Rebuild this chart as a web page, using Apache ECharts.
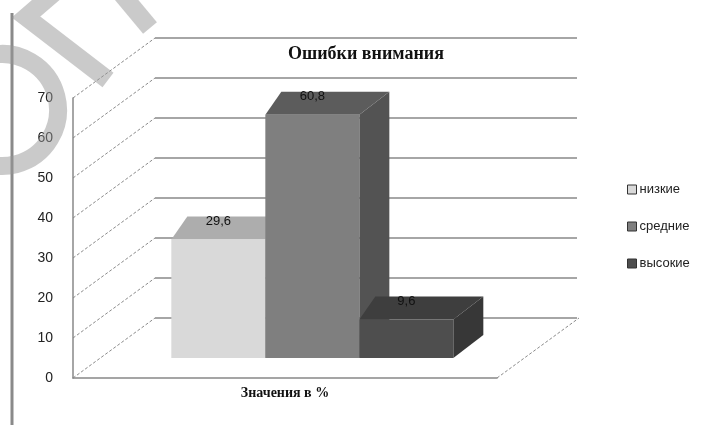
<!DOCTYPE html>
<html><head><meta charset="utf-8">
<script src="https://cdn.jsdelivr.net/npm/echarts@6/dist/echarts.min.js"></script>
<style>html,body{margin:0;padding:0;background:#fff}#c{width:717px;height:425px}</style>
</head><body><div id="c"></div>
<script>
// ---- data ----
const chartTitle = 'Ошибки внимания';
const categories = ['Значения в %'];
const seriesNames = ['низкие', 'средние', 'высокие'];
const values = [29.6, 60.8, 9.6];
const valueLabels = ['29,6', '60,8', '9,6'];
const yTicks = [0, 10, 20, 30, 40, 50, 60, 70];

// ---- styling / layout ----
const DEPTH_X = 82, DEPTH_Y = -60;      // wall depth offset
const BAR_DEPTH = 1 / 3;                 // bars sit a third of the way in
const BAR_W = 94;
const faces = [
  { front: '#d9d9d9', top: '#adadad', side: '#9a9a9a', legend: '#d9d9d9' },
  { front: '#7f7f7f', top: '#5c5c5c', side: '#535353', legend: '#7f7f7f' },
  { front: '#4e4e4e', top: '#3e3e3e', side: '#373737', legend: '#4e4e4e' }
];
const gridColor = '#888888';

function barRender(i) {
  return function (params, api) {
    const base = api.coord([api.value(0), 0]);
    const h = api.size([0, api.value(1)])[1];
    const cx = base[0] + DEPTH_X * BAR_DEPTH;
    const yb = base[1] + DEPTH_Y * BAR_DEPTH;
    const x0 = cx + (i - 1.5) * BAR_W, x1 = x0 + BAR_W;
    const yt = yb - h;
    const rdx = 30, ldx = 16, ddy = -23;
    const f = faces[i];
    return {
      type: 'group',
      children: [
        { type: 'polygon', shape: { points: [[x1, yt], [x1 + rdx, yt + ddy], [x1 + rdx, yb + ddy], [x1, yb]] }, style: { fill: f.side } },
        { type: 'polygon', shape: { points: [[x0, yt], [x1, yt], [x1 + rdx, yt + ddy], [x0 + ldx, yt + ddy]] }, style: { fill: f.top } },
        { type: 'rect', shape: { x: x0, y: yt, width: BAR_W, height: yb - yt }, style: { fill: f.front } },
        { type: 'text', style: { text: valueLabels[i], x: (x0 + x1) / 2, y: yt - 18, textAlign: 'center', textVerticalAlign: 'middle', font: '13px "Liberation Sans", Arial, sans-serif', fill: '#111' } }
      ]
    };
  };
}

const series = seriesNames.map((name, i) => ({
  name: name,
  type: 'custom',
  xAxisIndex: 0, yAxisIndex: 0,
  z: 5 + i,
  itemStyle: { color: faces[i].legend },
  encode: { x: 0, y: 1 },
  data: [[0, values[i]]],
  renderItem: barRender(i)
}));

series.unshift({
  name: 'walls',
  type: 'custom',
  xAxisIndex: 0, yAxisIndex: 0,
  silent: true, z: 1,
  encode: { x: 0, y: 1 },
  data: yTicks.map(v => [0, v]),
  renderItem: function (params, api) {
    const cs = params.coordSys;
    const y = api.coord([0, api.value(1)])[1];
    const st = { stroke: '#8a8a8a', lineWidth: 1, lineDash: [3, 2] };
    const ch = [{ type: 'line', shape: { x1: cs.x, y1: y, x2: cs.x + DEPTH_X, y2: y + DEPTH_Y }, style: st }];
    if (api.value(1) === 0) {
      ch.push({ type: 'line', shape: { x1: cs.x + cs.width, y1: y, x2: cs.x + cs.width + DEPTH_X, y2: y + DEPTH_Y }, style: st });
    }
    return { type: 'group', children: ch };
  }
});

const chart = echarts.init(document.getElementById('c'));
chart.setOption({
  animation: false,
  backgroundColor: '#fff',
  title: {
    text: chartTitle, left: 361, top: 40, textAlign: 'center',
    textStyle: { fontFamily: '"Liberation Serif", "Times New Roman", serif', fontSize: 18, fontWeight: 'bold', color: '#111' }
  },
  legend: {
    data: seriesNames.map((n, i) => ({ name: n, itemStyle: { color: faces[i].legend, borderColor: '#333', borderWidth: 1 } })),
    orient: 'vertical', left: 622, top: 178, itemGap: 24,
    itemWidth: 9, itemHeight: 9, icon: 'rect',
    textStyle: { fontFamily: '"Liberation Sans", Arial, sans-serif', fontSize: 13, color: '#222', padding: [0, 0, 0, -2] }
  },
  grid: [
    { left: 73, top: 98, width: 424, height: 280, containLabel: false },
    { left: 155, top: 38, width: 422, height: 280, containLabel: false }
  ],
  xAxis: [
    { gridIndex: 0, type: 'category', data: categories,
      axisLine: { show: true, lineStyle: { color: gridColor, width: 1.5 } },
      axisTick: { show: false },
      axisLabel: { margin: 8, fontFamily: '"Liberation Serif", "Times New Roman", serif', fontSize: 14, fontWeight: 'bold', color: '#111' } },
    { gridIndex: 1, type: 'category', data: categories, show: false }
  ],
  yAxis: [
    { gridIndex: 0, type: 'value', min: 0, max: 70, interval: 10,
      axisLine: { show: true, lineStyle: { color: gridColor, width: 1.5 } },
      axisTick: { show: false }, splitLine: { show: false },
      axisLabel: { margin: 20, fontFamily: '"Liberation Sans", Arial, sans-serif', fontSize: 14, color: '#222' } },
    { gridIndex: 1, type: 'value', min: 0, max: 70, interval: 10,
      axisLine: { show: false }, axisTick: { show: false }, axisLabel: { show: false },
      splitLine: { show: true, lineStyle: { color: gridColor, width: 1.6 } } }
  ],
  graphic: [
    { type: 'line', shape: { x1: 12, y1: 13, x2: 12, y2: 425 }, style: { stroke: '#8a8a8a', lineWidth: 3 }, z: 10 },
    { type: 'polyline', shape: { points: [[108, 80], [26, 17], [62, -14]] }, style: { stroke: 'rgba(150,150,150,0.5)', lineWidth: 18, fill: null }, z: 20 },
    { type: 'line', shape: { x1: 120, y1: -8, x2: 150, y2: 28 }, style: { stroke: 'rgba(150,150,150,0.5)', lineWidth: 18 }, z: 20 },
    { type: 'arc', shape: { cx: 2, cy: 110, r: 56, startAngle: -Math.PI * 0.58, endAngle: Math.PI * 0.6 }, style: { stroke: 'rgba(150,150,150,0.5)', lineWidth: 18, fill: null }, z: 20 }
  ],
  series: series
});
</script>
</body></html>
